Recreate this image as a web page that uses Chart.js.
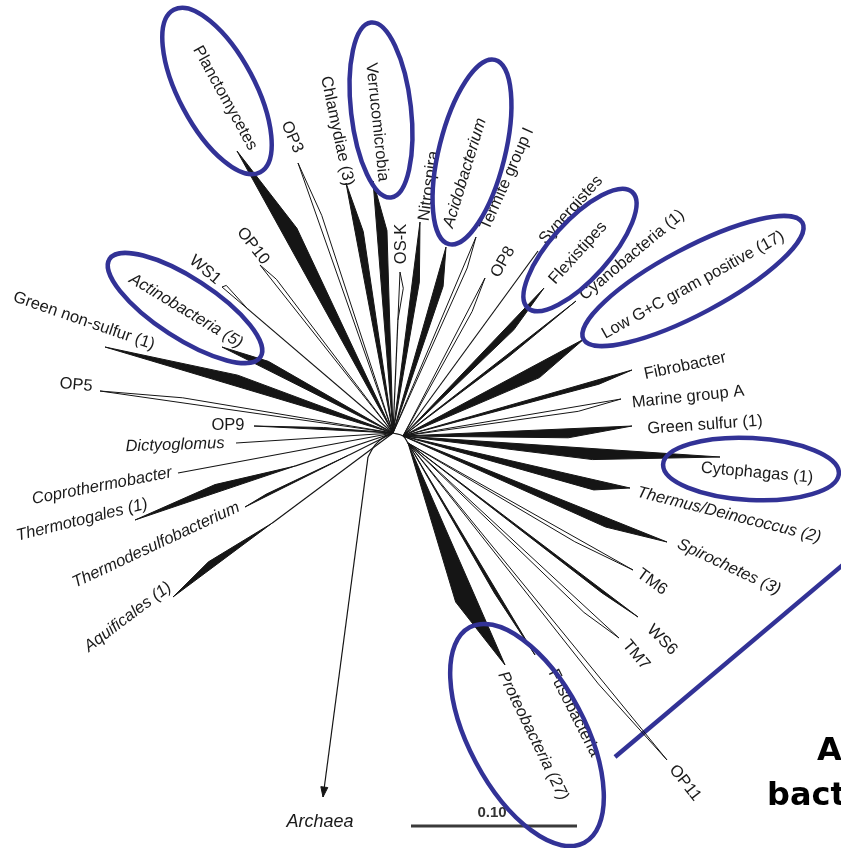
<!DOCTYPE html>
<html><head><meta charset="utf-8">
<script src="https://cdn.jsdelivr.net/npm/chart.js@4/dist/chart.umd.min.js"></script>
<style>html,body{margin:0;padding:0;background:#fff}#wrap{width:841px;height:848px}</style>
</head><body><div id="wrap"><canvas id="c" width="841" height="848"></canvas></div>
<script>
// ===== DATA (picture coordinates; y grows downward) =====
const clades = ['Aquificales (1)','Thermodesulfobacterium','Thermotogales (1)','Coprothermobacter','Dictyoglomus','OP9','OP5','Green non-sulfur (1)','Actinobacteria (5)','WS1','OP10','Planctomycetes','OP3','Chlamydiae (3)','Verrucomicrobia','OS-K','Nitrospira','Acidobacterium','Termite group I','OP8','Synergistes','Flexistipes','Cyanobacteria (1)','Low G+C gram positive (17)','Fibrobacter','Marine group A','Green sulfur (1)','Cytophagas (1)','Thermus/Deinococcus (2)','Spirochetes (3)','TM6','WS6','TM7','OP11','Fusobacteria','Proteobacteria (27)'];
const cladeType = ['filled','filled','filled','line','line','filled','open','filled','filled','open','open','filled','open','filled','filled','open','filled','filled','open','open','line','filled','filled','filled','filled','open','filled','filled','filled','filled','open','filled','open','open','filled','filled'];
const cladeRoot = ['L','L','L','L','L','L','L','L','L','L','L','L','L','L','L','L','L','L','L','R','R','R','R','R','R','R','R','R','R','R','B','B','B','B','B','B'];
const tipX = [173,245,135,178,236,254,100,105,222,222,260,237,298,346,373,400,420,446,476,485,538,544,576,584,632,621,632,720,630,667,633,638,619,667,535,505];
const tipY = [597,507,520,473,443,426,391,347,347,287,265,151,163,183,181,272,222,247,237,278,251,288,301,339,370,399,426,457,488,542,570,617,638,760,655,665];
const nodeFrac = [0.55,0.3,0.38,0,0,0,0,0,0,0.85,0,0,0,0,0,0.7,0,0,0,0,0,0,0,0,0,0,0,0,0,0,0,0,0,0,0,0];
const shortFrac = [0.82,0.85,0.68,0,0,0.5,0.72,0.55,0.75,0.99,0.9,0.7,0.8,0.8,0.8,0.9,0.72,0.8,0.85,0.8,0,0.75,0.6,0.72,0.85,0.8,0.72,0.6,0.85,0.78,0.75,0.85,0.85,0.75,0.7,0.68];
const cladeSpread = [7,2,8,0,0,2,5,11,8,4,4,15,5,8,10,4,7,8,4,4,0,7,2.5,13,4.5,5,9,11,10,9,4,2.5,5,5,3,20];
const rootX = {L:393, R:403, B:408};
const rootY = {L:433, R:436, B:443};
const archaeaX = [393,384,375,368];
const archaeaY = [433,437,445,457];
const archaeaTip = [323,797];
const scaleBarValue = 0.10;
const pxPerUnit = 1660;

// ===== LAYOUT (labels, annotations) =====
const labelLayout = {
 'Aquificales (1)':[128,617,-37],'Thermodesulfobacterium':[156,545,-25],'Thermotogales (1)':[82,520,-14],
 'Coprothermobacter':[102,486,-11],'Dictyoglomus':[175,445,-2],'OP9':[228,425,0],'OP5':[76,385,5],
 'Green non-sulfur (1)':[84,321,19],'Actinobacteria (5)':[186,311,31],'WS1':[205,270,40],'OP10':[253,246,52],
 'Planctomycetes':[225,98,61],'OP3':[292,137,66],'Chlamydiae (3)':[337,131,78],'Verrucomicrobia':[377,122,84],
 'OS-K':[401,244,-90],'Nitrospira':[429,186,-82],'Acidobacterium':[465,173,-73],'Termite group I':[507,179,-66],
 'OP8':[503,262,-60],'Synergistes':[571,210,-48],'Flexistipes':[578,253,-48],'Cyanobacteria (1)':[632,255,-40],
 'Low G+C gram positive (17)':[693,285,-29],'Fibrobacter':[685,366,-12],'Marine group A':[688,397,-6],
 'Green sulfur (1)':[705,425,-4],'Cytophagas (1)':[757,473,5],'Thermus/Deinococcus (2)':[729,515,14],
 'Spirochetes (3)':[729,567,25],'TM6':[652,582,36],'WS6':[662,640,45],'TM7':[636,655,50],'OP11':[685,783,52],
 'Fusobacteria':[574,713,63],'Proteobacteria (27)':[533,736,64]
};
const italicLabels = new Set(['Aquificales (1)','Thermodesulfobacterium','Thermotogales (1)','Coprothermobacter','Dictyoglomus','Actinobacteria (5)','Thermus/Deinococcus (2)','Spirochetes (3)','Proteobacteria (27)','Acidobacterium']);
const ellipses = [ // cx, cy, rx, ry, rotation deg
 [217,91,92,38,62],[381,110,88,30,83.5],[472,152,95,33,-76],[580,250,78,29,-48],
 [693,281,124,33,-28],[185,308,90,30,33],[751,469,88,31,3],[527,735,122,58,62]
];
const INK = '#151515';
const BLUE = 'rgb(50,50,150)';

// ===== build datasets =====
const datasets = [];
function seg(points, opts){ datasets.push(Object.assign({data:points, borderColor:INK, borderWidth:1.2, pointRadius:0, fill:false, tension:0}, opts||{})); }
seg([{x:rootX.L,y:rootY.L},{x:rootX.R,y:rootY.R},{x:rootX.B,y:rootY.B}], {tension:0.4});
clades.forEach((name,i)=>{
  const ox=rootX[cladeRoot[i]], oy=rootY[cladeRoot[i]];
  const dx=tipX[i]-ox, dy=tipY[i]-oy, L=Math.hypot(dx,dy), ux=dx/L, uy=dy/L, px=-uy, py=ux;
  const T={x:tipX[i],y:tipY[i]};
  if (cladeType[i]==='line'){ seg([{x:ox,y:oy},T]); return; }
  const N={x:ox+nodeFrac[i]*dx, y:oy+nodeFrac[i]*dy};
  const B={x:ox+shortFrac[i]*dx+cladeSpread[i]*px, y:oy+shortFrac[i]*dy+cladeSpread[i]*py};
  if (nodeFrac[i]>0) seg([{x:ox,y:oy},N]);
  if (cladeType[i]==='filled') seg([N,B,T,N], {fill:'shape', backgroundColor:INK, borderWidth:1});
  else seg([N,B,T,N], {borderWidth:1});
});
// Archaea root branch
const arch = archaeaX.map((x,i)=>({x, y:archaeaY[i]}));
seg(arch, {tension:0.4});
seg([arch[arch.length-1], {x:archaeaTip[0], y:archaeaTip[1]}]);
(function(){
  const a=arch[arch.length-1], dx=archaeaTip[0]-a.x, dy=archaeaTip[1]-a.y, L=Math.hypot(dx,dy), ux=dx/L, uy=dy/L;
  const bx=archaeaTip[0]-10*ux, by=archaeaTip[1]-10*uy;
  seg([{x:archaeaTip[0],y:archaeaTip[1]},{x:bx-3.5*uy,y:by+3.5*ux},{x:bx+3.5*uy,y:by-3.5*ux},{x:archaeaTip[0],y:archaeaTip[1]}], {fill:'shape', backgroundColor:INK, borderWidth:1});
})();
// scale bar
seg([{x:411,y:826},{x:411+scaleBarValue*pxPerUnit,y:826}], {borderColor:'#3a3a3a', borderWidth:3});
// blue connector line
seg([{x:615,y:757},{x:845,y:563}], {borderColor:BLUE, borderWidth:4.5});

const textPlugin = {
  id:'treeText',
  afterDatasetsDraw(chart){
    const ctx=chart.ctx, xs=chart.scales.x, ys=chart.scales.y;
    const P=(x,y)=>[xs.getPixelForValue(x), ys.getPixelForValue(y)];
    ctx.save();
    ctx.fillStyle='#1a1a1a'; ctx.textAlign='center'; ctx.textBaseline='middle';
    clades.forEach(name=>{
      const l=labelLayout[name]; if(!l) return;
      const [x,y]=P(l[0],l[1]);
      ctx.save(); ctx.translate(x,y); ctx.rotate(l[2]*Math.PI/180);
      ctx.font=(italicLabels.has(name)?'italic ':'')+'16.5px "Liberation Sans", Arial, sans-serif';
      ctx.fillText(name,0,0); ctx.restore();
    });
    let [x,y]=P(320,822);
    ctx.font='italic 18px "Liberation Sans", Arial, sans-serif'; ctx.fillText('Archaea',x,y);
    [x,y]=P(492,813);
    ctx.font='bold 15px "Liberation Sans", Arial, sans-serif'; ctx.fillStyle='#333'; ctx.fillText(scaleBarValue.toFixed(2),x,y);
    ctx.strokeStyle=BLUE; ctx.lineWidth=4.5;
    ellipses.forEach(e=>{
      const [cx,cy]=P(e[0],e[1]);
      const rx=Math.abs(xs.getPixelForValue(e[0]+e[2])-cx), ry=Math.abs(ys.getPixelForValue(e[1]+e[3])-cy);
      ctx.beginPath(); ctx.ellipse(cx,cy,rx,ry,e[4]*Math.PI/180,0,Math.PI*2); ctx.stroke();
    });
    ctx.fillStyle='#000'; ctx.textAlign='left'; ctx.textBaseline='alphabetic';
    ctx.font='bold 32px "DejaVu Sans", sans-serif';
    [x,y]=P(817,760); ctx.fillText('A',x,y);
    [x,y]=P(767,805); ctx.fillText('bacteria',x,y);
    ctx.restore();
  }
};

new Chart(document.getElementById('c'), {
  type:'line',
  data:{datasets},
  options:{
    responsive:false, animation:false, devicePixelRatio:1,
    layout:{padding:0},
    plugins:{legend:{display:false}, tooltip:{enabled:false}},
    events:[],
    scales:{
      x:{type:'linear', min:0, max:841, display:false},
      y:{type:'linear', min:0, max:848, reverse:true, display:false}
    }
  },
  plugins:[textPlugin]
});
</script></body></html>
